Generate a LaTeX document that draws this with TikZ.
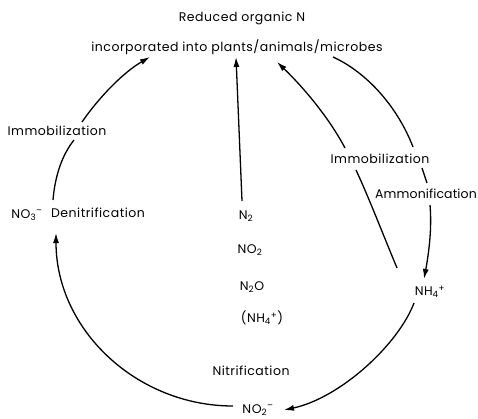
\documentclass[tikz,border=0pt]{standalone}
\usepackage{fontspec}
\setmainfont[LetterSpace=4]{Poppins}
\usetikzlibrary{arrows.meta}
\newcommand{\sbs}[1]{\textsubscript{#1}}
\newcommand{\sps}[1]{\textsuperscript{#1}}
\begin{document}
\begin{tikzpicture}[x=1pt,y=-1pt,
  lbl/.style={inner sep=0pt,font=\fontsize{12.5}{14}\selectfont},
  flow/.style={line width=1.3pt,-{Latex[length=10pt,width=6pt]}},
  seg/.style={line width=1.3pt}]
\useasboundingbox (0,0) rectangle (478,419);
\node[lbl] (top1) at (242,18) {Reduced\ organic\ N};
\node[lbl] (top2) at (237,47) {incorporated into plants/animals/microbes};
\node[lbl] (immL) at (57,131) {Immobilization};
\node[lbl] (no3) at (27,215) {NO\sbs{3}\sps{--}};
\node[lbl] (denit) at (98,213) {Denitrification};
\node[lbl] (n2) at (246,216) {N\sbs{2}};
\node[lbl] (no2) at (250,250) {NO\sbs{2}};
\node[lbl] (n2o) at (252,287) {N\sbs{2}O};
\node[lbl] (nh4p) at (262,318) {(NH\sbs{4}\sps{+})};
\node[lbl] (nitr) at (251,371) {Nitrification};
\node[lbl] (no2m) at (258,410) {NO\sbs{2}\sps{--}};
\node[lbl] (immR) at (380,159) {Immobilization};
\node[lbl,anchor=east] (ammon) at (477,194) {\addfontfeature{LetterSpace=1}Ammonification};
\node[lbl] (nh4) at (430,292) {NH\sbs{4}\sps{+}};
% coordinates
\coordinate (a1) at (233,406);
\coordinate (a2) at (56,233);
\coordinate (b1) at (414,303);
\coordinate (b2) at (284,410);
\coordinate (c1) at (53,200);
\coordinate (c2) at (74,140);
\coordinate (c3) at (82,122);
\coordinate (c4) at (150,57);
\coordinate (d1) at (242,201);
\coordinate (d2) at (236,57);
\coordinate (e1) at (397,268);
\coordinate (e2) at (356,170);
\coordinate (e3) at (345,148);
\coordinate (e4) at (277,62);
\coordinate (f1) at (333,57);
\coordinate (f2) at (413,147);
\coordinate (f3) at (422,168);
\coordinate (f4) at (427,183);
\coordinate (f5) at (430,205);
\coordinate (f6) at (424,279);
% connectors
\draw[flow] (a1) .. controls (137,406) and (56,330) .. (a2);
\draw[flow] (b1) .. controls (398,345) and (340,398) .. (b2);
\draw[seg] (c1) .. controls (55,176) and (62,155) .. (c2);
\draw[flow] (c3) .. controls (100,96) and (124,72) .. (c4);
\draw[flow] (d1) -- (d2);
\draw[seg] (e1) .. controls (382,232) and (369,198) .. (e2);
\draw[flow] (e3) .. controls (328,116) and (302,86) .. (e4);
\draw[seg] (f1) .. controls (368,73) and (398,108) .. (f2);
\draw[seg] (f3) -- (f4);
\draw[flow] (f5) .. controls (432,228) and (429,252) .. (f6);
\end{tikzpicture}
\end{document}
